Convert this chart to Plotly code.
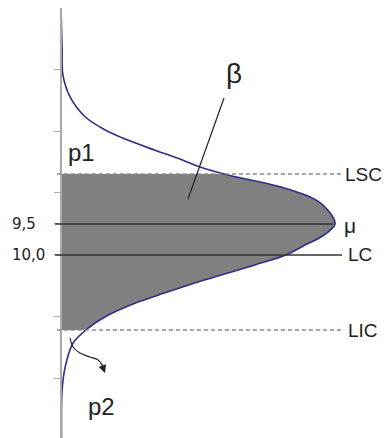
import plotly.graph_objects as go

# curve: value on the (downward) vertical axis, relative density
curve_v = [6.00, 6.35, 6.69, 7.10, 7.45, 7.77, 7.98, 8.11, 8.31, 8.44, 8.58, 8.71,
           8.90, 9.11, 9.31, 9.50, 9.69, 9.84, 10.00, 10.16, 10.40, 10.61, 10.76,
           11.00, 11.18, 11.42, 11.81, 12.18, 12.95]
curve_d = [0.000, 0.002, 0.004, 0.007, 0.033, 0.088, 0.160, 0.223, 0.343, 0.427, 0.507, 0.610,
           0.800, 0.930, 0.980, 1.000, 0.956, 0.890, 0.820, 0.708, 0.526, 0.380, 0.281,
           0.160, 0.099, 0.044, 0.015, 0.004, 0.002]

mu = 9.5
lc = 10.0
lsc = 8.694
lic = 11.21
tick_vals = [6, 7, 8, 9, 9.5, 10, 11, 12]

# p2 arrow path
arrow_x = [0.033, 0.044, 0.069, 0.106, 0.135, 0.150]
arrow_y = [11.339, 11.484, 11.581, 11.645, 11.694, 11.774]

# page body adds an 8px offset, so the figure is 8px smaller on each axis
ymin, ymax = 6.016, 12.952
xmin, xmax = -0.0402, 1.2007
grey = "#808080"
blue = "#2e2e88"
ink = "#222222"

fig = go.Figure()

# shaded band (fill under curve, then masked outside LSC..LIC)
fig.add_trace(go.Scatter(x=curve_d, y=curve_v, mode="lines", line=dict(width=0, shape="spline"),
                         fill="tozerox", fillcolor=grey, hoverinfo="skip"))
for y0, y1 in [(ymin - 1, lsc), (lic, ymax + 1)]:
    fig.add_trace(go.Scatter(x=[0, 1.3, 1.3, 0, 0], y=[y0, y0, y1, y1, y0], mode="lines",
                             line=dict(width=0), fill="toself", fillcolor="white", hoverinfo="skip"))

# curve
fig.add_trace(go.Scatter(x=curve_d, y=curve_v, mode="lines",
                         line=dict(color=blue, width=1.6, shape="spline"), hoverinfo="skip"))

# p2 arrow
fig.add_trace(go.Scatter(x=arrow_x, y=arrow_y, mode="lines",
                         line=dict(color=ink, width=1.2, shape="spline"), hoverinfo="skip"))
fig.add_annotation(x=0.1606, y=11.903, ax=-4, ay=-11, text="", showarrow=True,
                   arrowhead=2, arrowsize=1.3, arrowwidth=1.2, arrowcolor=ink)

# reference lines
for yv, x1 in [(lsc, 1.026), (lic, 1.026)]:
    fig.add_shape(type="line", x0=-0.015, x1=x1, y0=yv, y1=yv,
                  line=dict(color="#8a8a8a", width=1.5, dash="4px,3px"))
for yv, x1 in [(mu, 0.993), (lc, 1.026)]:
    fig.add_shape(type="line", x0=-0.022, x1=x1, y0=yv, y1=yv,
                  line=dict(color="#333333", width=1.5))

# beta pointer
fig.add_shape(type="line", x0=0.595, y0=7.468, x1=0.4635, y1=9.097,
              line=dict(color=ink, width=1.2))

labels = [
    ("LSC", 1.034, lsc, 19, "left"),
    ("\u03bc", 1.030, 9.53, 21, "left"),
    ("LC", 1.044, lc, 19, "left"),
    ("LIC", 1.044, lic, 19, "left"),
    ("p1", 0.075, 8.34, 24, "center"),
    ("p2", 0.146, 12.45, 24, "center"),
    ("\u03b2", 0.631, 7.065, 28, "center"),
]
for txt, x, y, size, anchor in labels:
    fig.add_annotation(x=x, y=y, text=txt, showarrow=False, xanchor=anchor, yanchor="middle",
                       borderpad=0, font=dict(family="Liberation Sans, Arial", size=size, color=ink))

for txt, y in [("9,5", mu), ("10,0", lc)]:
    fig.add_annotation(xref="paper", x=-40 / 340, y=y, text=txt, showarrow=False, xanchor="left",
                       yanchor="middle", font=dict(family="DejaVu Sans", size=15, color=ink))

fig.update_layout(
    width=382, height=430,
    margin=dict(l=42, r=0, t=0, b=0, autoexpand=False),
    plot_bgcolor="white", paper_bgcolor="white",
    showlegend=False,
    xaxis=dict(range=[xmin, xmax], visible=False, automargin=False),
    yaxis=dict(range=[ymax, ymin], anchor="free", position=11 / 340, automargin=False,
               showline=True, linecolor="#a8a8a8", linewidth=1.5,
               ticks="outside", ticklen=6, tickcolor="#a8a8a8", tickwidth=1,
               tickvals=tick_vals, showticklabels=False,
               showgrid=False, zeroline=False),
)

fig.write_html("out.html")
